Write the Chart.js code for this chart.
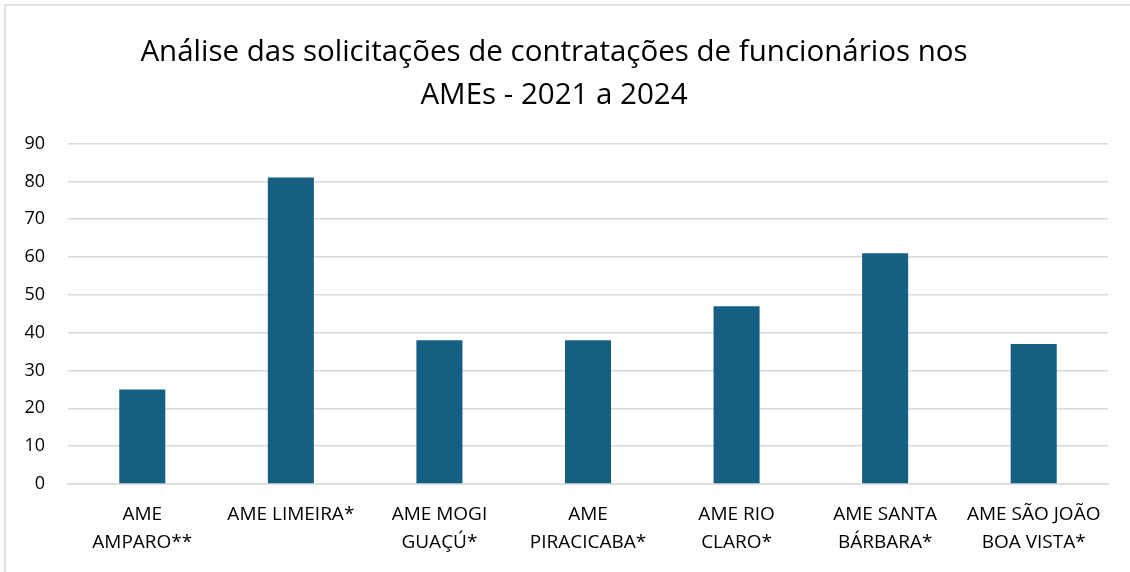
<!DOCTYPE html>
<html>
<head>
<meta charset="utf-8">
<script src="https://cdn.jsdelivr.net/npm/chart.js@4/dist/chart.umd.min.js"></script>
<style>
  html, body { margin: 0; padding: 0; background: #fff; }
  #wrap { position: relative; width: 1130px; height: 572px; }
</style>
</head>
<body>
<div id="wrap"><canvas id="c" width="1130" height="572"></canvas></div>
<script>
const categories = [
  ["AME", "AMPARO**"],
  "AME LIMEIRA*",
  ["AME MOGI", "GUAÇÚ*"],
  ["AME", "PIRACICABA*"],
  ["AME RIO", "CLARO*"],
  ["AME SANTA", "BÁRBARA*"],
  ["AME SÃO JOÃO", "BOA VISTA*"]
];
const solicitacoes = [25, 81, 38, 38, 47, 61, 37];
const yMin = 0, yMax = 90, yStep = 10;
const titleLines = ["Análise das solicitações de contratações de funcionários nos", "AMEs - 2021 a 2024"];

const FONT = "'Open Sans', 'Noto Sans', sans-serif";

const borderPlugin = {
  id: 'outerBorder',
  beforeDraw(chart) {
    const ctx = chart.ctx;
    ctx.save();
    ctx.fillStyle = '#ffffff';
    ctx.fillRect(0, 0, chart.width, chart.height);
    ctx.strokeStyle = '#d9d9d9';
    ctx.lineWidth = 1.5;
    ctx.strokeRect(5, 5, chart.width + 20, chart.height + 20);
    ctx.restore();
  }
};

new Chart(document.getElementById('c'), {
  type: 'bar',
  data: {
    labels: categories,
    datasets: [{
      data: solicitacoes,
      backgroundColor: '#156082',
      borderWidth: 0,
      categoryPercentage: 1,
      barPercentage: 0.31
    }]
  },
  options: {
    responsive: false,
    animation: false,
    layout: { padding: { top: 31, right: 22, bottom: 0, left: 0 } },
    plugins: {
      legend: { display: false },
      tooltip: { enabled: false },
      title: {
        display: true,
        text: titleLines,
        color: '#000000',
        font: { family: FONT, size: 29.5, weight: 'normal', lineHeight: 1.45 },
        padding: { top: 0, bottom: 27 }
      }
    },
    scales: {
      x: {
        grid: { display: false, drawTicks: false },
        border: { display: true, color: '#d9d9d9', width: 1.5 },
        ticks: {
          color: '#000000',
          font: { family: FONT, size: 19, lineHeight: 1.474 },
          padding: 17,
          maxRotation: 0,
          autoSkip: false
        },
        afterFit(scale) { scale.height = 88; }
      },
      y: {
        min: yMin,
        max: yMax,
        grid: { color: '#d9d9d9', lineWidth: 1.5, drawTicks: false },
        border: { display: false },
        ticks: {
          stepSize: yStep,
          color: '#000000',
          font: { family: FONT, size: 18 },
          padding: 23
        },
        afterFit(scale) { scale.width = 68; }
      }
    }
  },
  plugins: [borderPlugin]
});
</script>
</body>
</html>
